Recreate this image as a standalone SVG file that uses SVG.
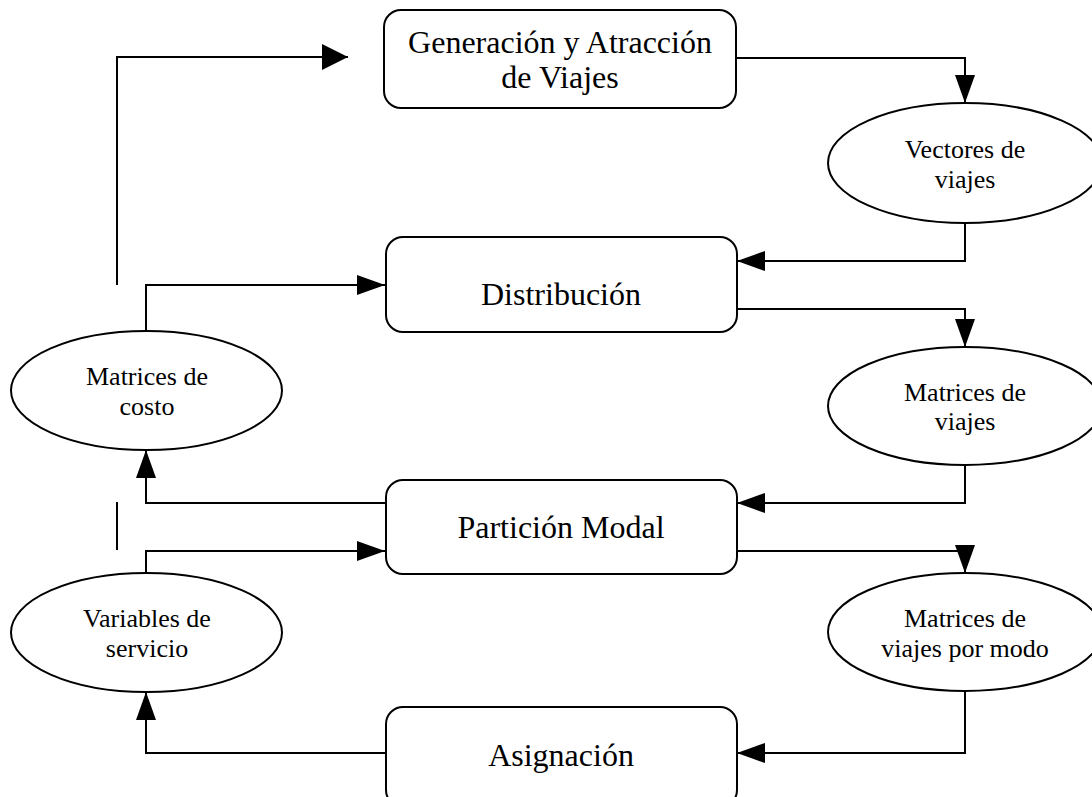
<svg xmlns="http://www.w3.org/2000/svg" width="1092" height="797" viewBox="0 0 1092 797">
<style>
.box{fill:#fff;stroke:#000;stroke-width:2}
.ell{fill:#fff;stroke:#000;stroke-width:2}
.bt{font-family:"Liberation Serif","Times New Roman",serif;font-size:32px;text-anchor:middle;fill:#000}
.et{font-family:"Liberation Serif","Times New Roman",serif;font-size:26px;text-anchor:middle;fill:#000}
.c{fill:none;stroke:#000;stroke-width:2}
</style>
<defs>
<marker id="ah" markerUnits="userSpaceOnUse" markerWidth="28" markerHeight="20" refX="28" refY="10" orient="auto" viewBox="0 0 28 20">
<path d="M0,0 L28,10 L0,20 Z" fill="#000"/>
</marker>
<marker id="ahb" markerUnits="userSpaceOnUse" markerWidth="26" markerHeight="26" refX="26" refY="13" orient="auto" viewBox="0 0 26 26">
<path d="M0,0 L26,13 L0,26 Z" fill="#000"/>
</marker>
</defs>
<rect width="1092" height="797" fill="#fff"/>
<g id="connectors">
<path class="c" d="M117,285 V57 H348" marker-end="url(#ahb)"/>
<path class="c" d="M736,58 H965 V103" marker-end="url(#ah)"/>
<path class="c" d="M965,223 V261 H737" marker-end="url(#ah)"/>
<path class="c" d="M737,309 H965 V347" marker-end="url(#ah)"/>
<path class="c" d="M965,465 V503 H737" marker-end="url(#ah)"/>
<path class="c" d="M737,551 H965 V573" marker-end="url(#ah)"/>
<path class="c" d="M965,692 V753 H737" marker-end="url(#ah)"/>
<path class="c" d="M385,753 H146 V692" marker-end="url(#ah)"/>
<path class="c" d="M146,573 V551 H385" marker-end="url(#ah)"/>
<path class="c" d="M385,503 H146 V450" marker-end="url(#ah)"/>
<path class="c" d="M146,331 V285 H385" marker-end="url(#ah)"/>
<path class="c" d="M117,502 V550"/>
</g>
<g id="n-generacion">
<rect class="box" x="384" y="10" width="352" height="98" rx="17"/>
<text class="bt" x="560" y="53">Generación y Atracción</text>
<text class="bt" x="560" y="88">de Viajes</text>
</g>
<g id="n-distribucion">
<rect class="box" x="386" y="237" width="351" height="95" rx="17"/>
<text class="bt" x="561" y="305">Distribución</text>
</g>
<g id="n-particion">
<rect class="box" x="386" y="480" width="351" height="94" rx="17"/>
<text class="bt" x="561" y="538">Partición Modal</text>
</g>
<g id="n-asignacion">
<rect class="box" x="386" y="707" width="351" height="100" rx="17"/>
<text class="bt" x="561" y="766">Asignación</text>
</g>
<g id="n-vectores">
<ellipse class="ell" cx="965" cy="163" rx="137" ry="60"/>
<text class="et" x="965" y="158">Vectores de</text>
<text class="et" x="965" y="188">viajes</text>
</g>
<g id="n-matrices-viajes">
<ellipse class="ell" cx="965" cy="406" rx="137" ry="59"/>
<text class="et" x="965" y="401">Matrices de</text>
<text class="et" x="965" y="430">viajes</text>
</g>
<g id="n-matrices-modo">
<ellipse class="ell" cx="965" cy="632" rx="137" ry="59"/>
<text class="et" x="965" y="627">Matrices de</text>
<text class="et" x="965" y="657">viajes por modo</text>
</g>
<g id="n-costo">
<ellipse class="ell" cx="146.5" cy="390.5" rx="135.5" ry="59.5"/>
<text class="et" x="147" y="385">Matrices de</text>
<text class="et" x="147" y="415">costo</text>
</g>
<g id="n-variables">
<ellipse class="ell" cx="146.5" cy="632.5" rx="135.5" ry="59.5"/>
<text class="et" x="147" y="627">Variables de</text>
<text class="et" x="147" y="657">servicio</text>
</g>
</svg>
